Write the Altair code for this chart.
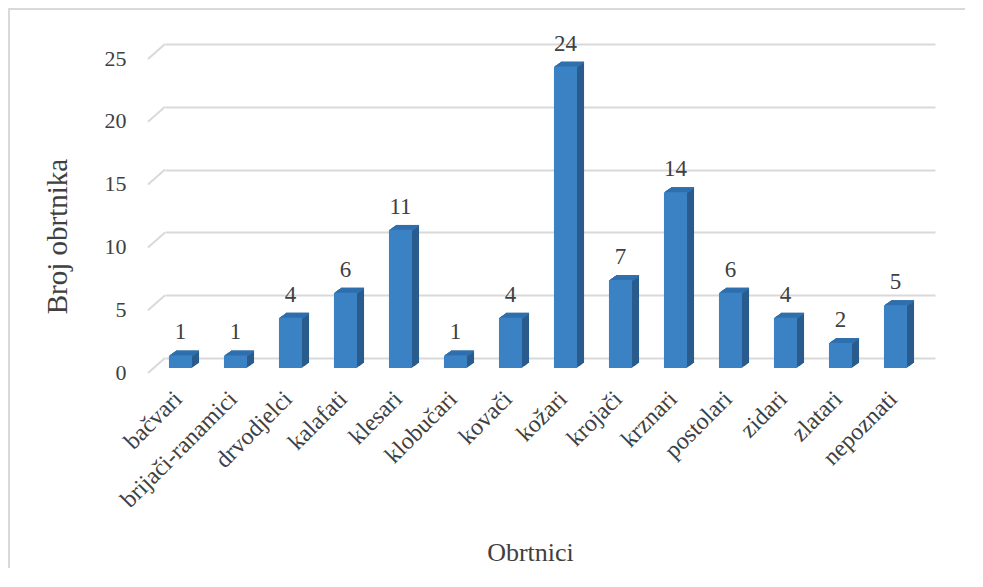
import altair as alt
import pandas as pd

categories = ["bačvari", "brijači-ranamici", "drvodjelci", "kalafati", "klesari",
              "klobučari", "kovači", "kožari", "krojači", "krznari", "postolari",
              "zidari", "zlatari", "nepoznati"]
values = [1, 1, 4, 6, 11, 1, 4, 24, 7, 14, 6, 4, 2, 5]
y_ticks = [0, 5, 10, 15, 20, 25]

df = pd.DataFrame({"cat": categories, "v": values})
ticks_df = pd.DataFrame({"t": y_ticks})
one = pd.DataFrame({"a": [0]})

FONT = "Liberation Serif"
TXT = "#404040"
GRID = "#d9d9d9"
FRONT = "#3b82c5"
TOP = "#2f6fae"
SIDE = "#295c8c"
DX = -12
DY = 10

xs = alt.Scale(domain=categories, paddingInner=0.58, paddingOuter=0.29)
ys = alt.Scale(domain=[0, 25], nice=False)

X_AX = alt.Axis(title="Obrtnici", labelAngle=-45, labelAlign="right",
                labelBaseline="middle", labelOffset=-14, labelPadding=37,
                domain=False, ticks=False, grid=False,
                labelFont=FONT, labelFontSize=24, labelColor=TXT,
                titleFont=FONT, titleFontSize=26, titleColor=TXT,
                titleFontWeight="normal", titleX=365, titleY=194,
                titleAlign="center", titleBaseline="middle")
Y_AX = alt.Axis(title="Broj obrtnika", values=y_ticks, domain=False, ticks=False,
                grid=True, gridColor=GRID, gridWidth=2,
                labelPadding=39, labelOffset=14,
                labelFont=FONT, labelFontSize=22, labelColor=TXT,
                titleFont=FONT, titleFontSize=29, titleColor=TXT,
                titleFontWeight="normal", titleX=-108, titleY=192,
                titleAngle=-90, titleAlign="center", titleBaseline="middle")

x_enc = alt.X("cat:N", sort=categories, scale=xs, axis=X_AX)
y_enc = alt.Y("v:Q", scale=ys, axis=Y_AX)

layers = []

# 3D diagonal grid connectors
layers.append(
    alt.Chart(ticks_df).mark_rule(color=GRID, strokeWidth=2, yOffset=15, y2Offset=0).encode(
        y=alt.Y("t:Q", scale=ys, axis=Y_AX), y2="t:Q",
        x=alt.value(-17), x2=alt.value(0)
    )
)

# side faces (extrusion)
for k in range(1, 8):
    off = DX + k
    yo = DY - 0.7 * k
    layers.append(
        alt.Chart(df).mark_bar(color=SIDE, xOffset=off, x2Offset=off, yOffset=yo, y2Offset=yo).encode(
            x=x_enc, y=y_enc, y2=alt.datum(0)
        )
    )

# top faces
for k in range(1, 8):
    off = DX + k
    yo = DY - 0.7 * k
    layers.append(
        alt.Chart(df).mark_bar(color=TOP, xOffset=off, x2Offset=off, yOffset=yo, y2Offset=yo + 1.6).encode(
            x=x_enc, y=y_enc, y2="v:Q"
        )
    )

# front faces
layers.append(
    alt.Chart(df).mark_bar(color=FRONT, xOffset=DX, x2Offset=DX, yOffset=DY, y2Offset=DY).encode(
        x=x_enc, y=y_enc, y2=alt.datum(0)
    )
)

# value labels
layers.append(
    alt.Chart(df).mark_text(font=FONT, fontSize=23, color=TXT, dx=DX, dy=-6,
                            baseline="alphabetic", align="center").encode(
        x=x_enc, y=y_enc, text="v:Q"
    )
)

# outer frame (top and left)
layers.append(
    alt.Chart(one).mark_rule(color=GRID, strokeWidth=2).encode(
        x=alt.value(-157), x2=alt.value(813), y=alt.value(-35)
    )
)
layers.append(
    alt.Chart(one).mark_rule(color=GRID, strokeWidth=2).encode(
        x=alt.value(-156), y=alt.value(-36), y2=alt.value(524)
    )
)

chart = alt.layer(*layers).properties(
    width=770, height=314,
    padding={"left": 157, "top": 36, "right": 30, "bottom": 210},
    autosize=alt.AutoSizeParams(type="none"),
    background="white"
).configure_view(stroke=None)

chart.save("out.html", embed_options={"renderer": "svg", "actions": False})
